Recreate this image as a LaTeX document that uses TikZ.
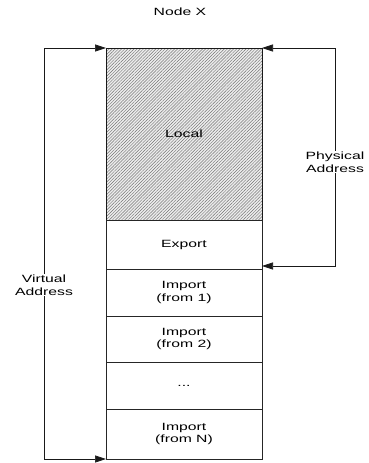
\documentclass[tikz,border=0pt]{standalone}
\usepackage{fontspec}
\setmainfont{Liberation Sans}[FakeStretch=1.5]
\usetikzlibrary{patterns.meta,arrows.meta}

\tikzset{
  seg/.style={draw=black!85, line width=0.7pt, rectangle, minimum width=156pt,
    inner sep=0pt, outer sep=0pt, align=center, font=\fontsize{10.5}{12.5}\selectfont},
  hatched/.style={pattern={Lines[angle=45,distance=2.2pt,line width=0.45pt]},
    pattern color=black!55},
  lbl/.style={align=center, inner sep=1pt, font=\fontsize{10.5}{12.5}\selectfont},
  conn/.style={draw=black!90, line width=0.7pt},
  arr/.style={conn, -{Triangle[length=11pt,width=7pt]}},
}

\begin{document}
\begin{tikzpicture}[x=1pt,y=-1pt]
  \useasboundingbox (0,0) rectangle (369,463);

  % memory layout of the node
  \node[seg, minimum height=172pt, anchor=north west] (local) at (106,48) {};
  \fill[gray!15] (local.north west) rectangle (local.south east);
  \path[hatched] (local.north west) rectangle (local.south east);
  \draw[conn] (local.north west) rectangle (local.south east);
  \node[lbl] at (local.center) {Local};

  \node[seg, minimum height=49pt, anchor=north] (export) at (local.south) {Export};
  \node[seg, minimum height=47pt, anchor=north] (imp1) at (export.south) {Import\\(from 1)};
  \node[seg, minimum height=46pt, anchor=north] (imp2) at (imp1.south) {Import\\(from 2)};
  \node[seg, minimum height=47pt, anchor=north] (dots) at (imp2.south) {...};
  \node[seg, minimum height=50pt, anchor=north] (impN) at (dots.south) {Import\\(from N)};

  % title
  \node[lbl] (title) at (180,12) {Node X};

  % virtual address span
  \node[lbl] (virt) at (44,285) {Virtual\\Address};
  \draw[arr] (virt.north) |- (local.north west);
  \draw[arr] (virt.south) |- (impN.south west);

  % physical address span
  \node[lbl] (phys) at (335,162) {Physical\\Address};
  \coordinate (physend) at (262,266);
  \draw[arr] (phys.north) |- (local.north east);
  \draw[arr] (phys.south) |- (physend);
\end{tikzpicture}
\end{document}
